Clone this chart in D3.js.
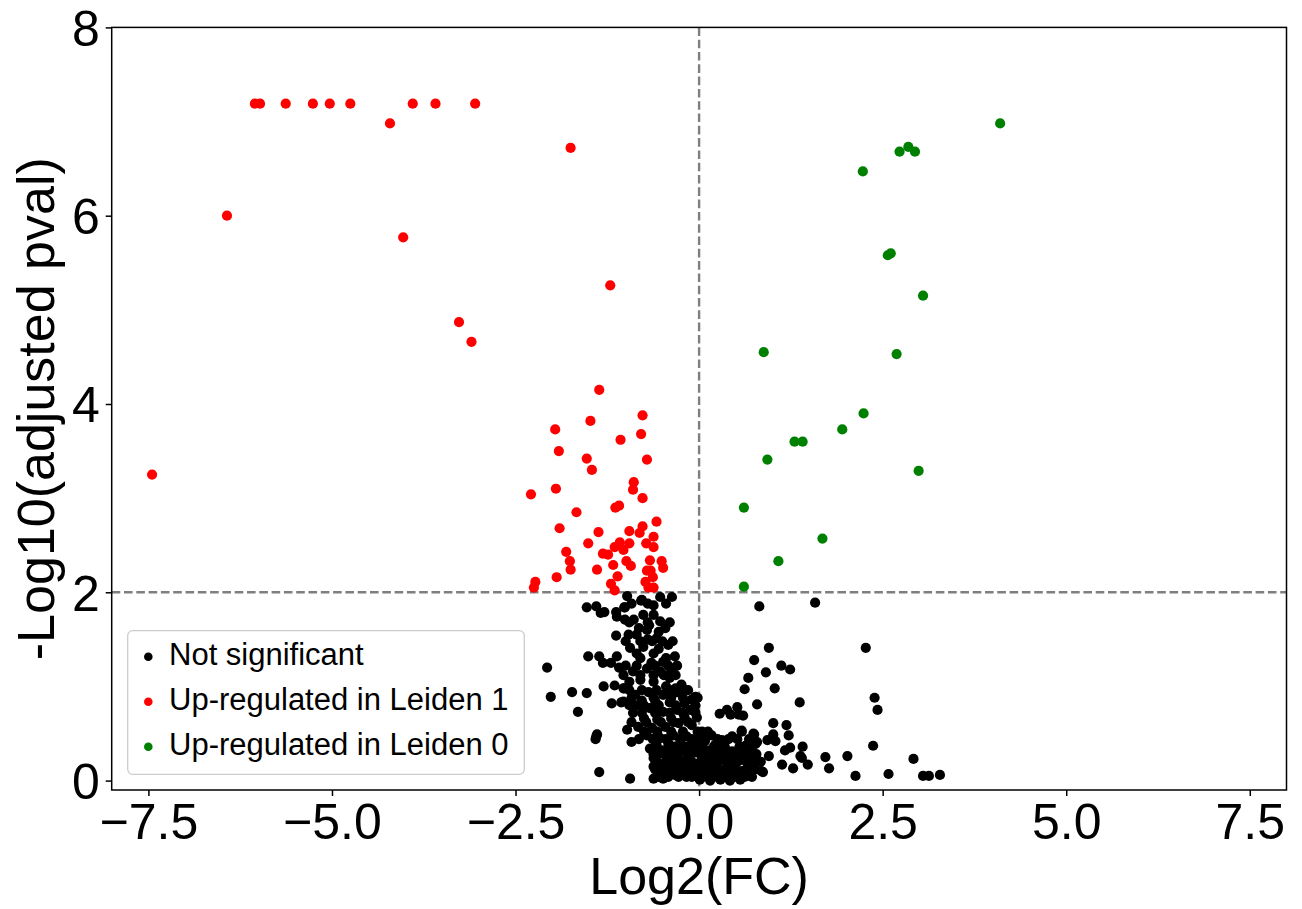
<!DOCTYPE html>
<html>
<head>
<meta charset="utf-8">
<script src="https://cdn.jsdelivr.net/npm/d3@7"></script>
<style>
  html, body { margin: 0; padding: 0; background: #fff; }
  svg text { font-family: "Liberation Sans", Arial, sans-serif; fill: #000; }
</style>
</head>
<body>
<svg id="chart" width="1302" height="909"></svg>
<script>
// ---- data (log2 fold change, -log10 adjusted p) ----
const seriesNames = ["Not significant", "Up-regulated in Leiden 1", "Up-regulated in Leiden 0"];
const seriesColors = ["#000000", "#ff0000", "#008000"];

const notSignificant = [
  [0.82,1.85],[1.58,1.89],[0.95,1.41],[2.27,1.41],[0.75,1.28],[1.12,1.22],[1.24,1.18],[0.91,1.15],
  [0.67,1.09],[0.62,0.97],[1.03,0.98],[0.79,0.81],[1.37,0.83],[2.39,0.88],[2.43,0.75],[0.28,0.71],
  [0.38,0.75],[0.43,0.70],[0.52,0.78],[0.54,0.70],[0.60,0.69],[1.01,0.61],[1.19,0.59],[0.58,0.53],
  [0.75,0.49],[1.01,0.49],[1.22,0.48],[0.93,0.43],[1.04,0.42],[0.77,0.39],[0.63,0.37],[1.24,0.35],
  [1.17,0.32],[1.41,0.36],[2.37,0.37],[1.38,0.26],[1.40,0.24],[0.95,0.26],[1.72,0.25],[2.02,0.26],
  [2.92,0.23],[0.84,0.20],[1.13,0.17],[1.48,0.17],[1.28,0.13],[1.77,0.13],[0.87,0.09],[2.13,0.05],
  [2.58,0.07],[3.05,0.05],[3.13,0.05],[3.28,0.06],
  [0.04,0.52],[0.17,0.48],[0.31,0.43],[0.45,0.47],[0.58,0.52],[0.74,0.50],[0.79,0.41],[0.01,0.36],
  [0.15,0.32],[0.29,0.34],[0.45,0.31],[0.63,0.36],[0.04,0.22],[0.17,0.20],[0.31,0.22],[0.45,0.20],
  [0.58,0.22],[0.83,0.20],[0.01,0.11],[0.15,0.10],[0.29,0.11],[0.42,0.08],[0.58,0.10],[0.85,0.10],
  [0.01,0.01],[0.15,0.00],[0.29,0.01],[0.42,0.00],[0.56,0.01],
  [0.08,0.42],[0.22,0.38],[0.36,0.28],[0.50,0.26],[0.10,0.15],[0.24,0.16],[0.38,0.14],[0.52,0.05],
  [0.08,0.05],[0.22,0.05],[0.35,0.05],[0.65,0.05],[0.70,0.15],[0.68,0.28],[0.12,0.27],
  [-1.53,1.84],[-1.40,1.85],[-1.34,1.78],[-1.29,1.79],[-1.13,1.79],[-1.12,1.74],[-1.02,1.84],[-1.13,1.54],
  [-1.51,1.32],[-1.36,1.32],[-1.31,1.25],[-1.20,1.25],[-1.12,1.32],[-1.09,1.20],[-2.07,1.20],[-2.02,0.89],
  [-1.73,0.94],[-1.53,0.93],[-1.65,0.73],[-1.30,1.00],[-1.15,1.01],[-1.03,0.98],[-1.19,0.82],[-1.06,0.83],
  [-1.39,0.49],[-1.41,0.44],[-1.36,0.09],[-0.98,0.54],[-1.40,0.47],[-0.05,0.89],
  [-0.79,1.91],[-0.37,1.95],[-0.62,1.86],[-1.01,1.84],[-0.98,1.96],[-0.78,1.92],[-0.53,1.95],
  [-1.01,1.71],[-0.89,1.71],[-0.76,1.76],[-0.62,1.76],[-0.53,1.69],[-0.46,1.62],
  [-0.96,1.55],[-0.85,1.55],[-0.71,1.60],[-0.58,1.51],[-0.42,1.44],[-0.33,1.32],
  [-0.94,1.41],[-0.76,1.42],[-0.62,1.35],[-0.49,1.26],
  [-1.03,1.12],[-0.90,1.16],[-0.71,1.19],[-0.53,1.16],[-0.40,1.09],[-0.24,1.02],
  [-1.02,0.98],[-0.87,0.91],[-0.69,0.94],[-0.49,0.91],[-0.30,0.94],[-0.10,0.86],
  [-1.03,0.84],[-0.85,0.80],[-0.67,0.77],[-0.49,0.73],[-0.30,0.75],[-0.12,0.75],
  [-0.83,0.57],[-0.64,0.56],[-0.46,0.57],[-0.28,0.61],[-0.10,0.59],
  [-0.92,0.41],[-0.71,0.48],[-0.53,0.45],[-0.35,0.48],[-0.17,0.47],[0.06,0.50],
  [-0.67,0.34],[-0.49,0.32],[-0.33,0.36],[-0.15,0.36],[0.06,0.34],
  [-0.62,0.24],[-0.44,0.25],[-0.28,0.24],[-0.12,0.27],[0.08,0.24],
  [-0.94,0.02],[-0.62,0.15],[-0.62,0.02],[-0.49,0.02],[-0.33,0.06],[-0.17,0.04],[-0.01,0.04],[0.13,0.04],
  [-0.44,0.13],[-0.28,0.15],[-0.12,0.13],
  [-0.95,1.05],[-0.80,1.07],[-0.62,1.05],[-0.45,1.00],[-0.32,0.98],[-0.78,0.85],[-0.60,0.85],[-0.40,0.83],
  [-0.20,0.82],[-0.75,0.66],[-0.57,0.65],[-0.38,0.66],[-0.20,0.68],[-0.03,0.67],
  [-0.58,0.38],[-0.42,0.40],[-0.25,0.40],[-0.08,0.42],[-0.55,0.28],[-0.38,0.30],[-0.22,0.32],[-0.05,0.30],
  [-0.52,0.18],[-0.35,0.20],[-0.18,0.20],[-0.02,0.18],[-0.55,0.08],[-0.40,0.07],[-0.25,0.09],[-0.08,0.08],
  [-0.80,1.30],[-0.65,1.25],[-0.55,1.40],[-0.70,1.50],[-0.85,1.35],[-0.45,1.30],[-0.38,1.18],[-0.68,1.65],
  [-0.82,1.62],[-0.55,1.58],
  [-0.92,1.88],[-0.70,1.88],[-0.45,1.88],
  [-0.95,1.68],[-0.70,1.68],[-0.40,1.68],
  [-1.00,1.48],[-0.80,1.48],[-0.64,1.48],[-0.50,1.48],[-0.36,1.48],
  [-1.00,1.22],[-0.85,1.22],[-0.60,1.22],[-0.42,1.22],[-0.30,1.22],
  [-0.80,1.12],[-0.62,1.12],[-0.48,1.12],[-0.32,1.12],
  [-0.95,0.96],[-0.78,0.96],[-0.58,0.96],[-0.40,0.96],[-0.20,0.96],[-0.15,0.96],
  [-0.92,0.88],[-0.62,0.88],[-0.38,0.88],[-0.22,0.88],[-0.02,0.88],
  [-0.95,0.80],[-0.75,0.80],[-0.55,0.80],[-0.32,0.80],[-0.05,0.80],
  [-0.90,0.72],[-0.78,0.72],[-0.60,0.72],[-0.40,0.72],[-0.22,0.72],[-0.05,0.72],
  [-0.92,0.62],[-0.72,0.62],[-0.52,0.62],[-0.35,0.62],[-0.15,0.62],
  [-0.75,0.52],[-0.57,0.52],[-0.38,0.52],[-0.22,0.52],[-0.02,0.52],[0.12,0.52],
  [-0.82,0.44],[-0.63,0.44],[-0.45,0.44],[-0.26,0.44],[-0.10,0.44],[0.00,0.44],[0.25,0.44],[0.40,0.44],[0.52,0.44],[0.68,0.44],
  [-0.58,0.36],[-0.40,0.36],[-0.22,0.36],[-0.05,0.36],[0.20,0.36],[0.35,0.36],[0.55,0.36],[0.72,0.36],
  [-0.62,0.28],[-0.45,0.28],[-0.30,0.28],[-0.16,0.28],[0.02,0.28],[0.18,0.28],[0.28,0.28],[0.44,0.28],[0.58,0.28],[0.78,0.28],
  [-0.58,0.20],[-0.44,0.20],[-0.26,0.20],[-0.10,0.20],[0.10,0.20],[0.24,0.20],[0.38,0.20],[0.52,0.20],[0.65,0.20],[0.72,0.20],
  [-0.60,0.12],[-0.48,0.12],[-0.34,0.12],[-0.20,0.12],[-0.04,0.12],[0.08,0.12],[0.22,0.12],[0.36,0.12],[0.50,0.12],[0.64,0.12],[0.76,0.12],
  [-0.55,0.04],[-0.42,0.04],[-0.28,0.04],[-0.10,0.04],[0.05,0.04],[0.20,0.04],[0.34,0.04],[0.48,0.04],[0.62,0.04],[0.72,0.04]
];

const upLeiden1 = [
  [-6.05,7.19],[-5.98,7.19],[-5.63,7.19],[-5.26,7.19],[-5.03,7.19],[-4.75,7.19],[-3.90,7.19],[-3.59,7.19],
  [-3.05,7.19],[-4.21,6.98],[-1.75,6.72],[-6.43,6.00],[-4.03,5.77],[-1.21,5.26],[-3.27,4.87],[-3.10,4.66],
  [-7.45,3.25],[-2.29,3.04],[-2.23,2.11],[-2.25,2.05],
  [-1.36,4.15],[-0.77,3.88],[-1.48,3.82],[-1.96,3.73],[-0.79,3.68],[-1.07,3.62],[-1.91,3.50],[-1.53,3.42],
  [-0.71,3.41],[-1.46,3.30],[-0.89,3.17],[-0.90,3.09],[-1.95,3.10],[-0.77,3.00],[-1.14,2.90],[-1.09,2.92],
  [-1.67,2.85],[-0.58,2.75],[-1.90,2.68],[-0.77,2.70],[-0.95,2.65],[-1.37,2.64],[-0.81,2.63],[-0.62,2.59],
  [-1.51,2.52],[-1.08,2.53],[-0.95,2.52],[-0.72,2.52],[-1.15,2.48],[-1.03,2.45],[-0.62,2.48],[-1.81,2.43],
  [-1.31,2.41],[-1.24,2.40],[-1.76,2.33],[-0.99,2.33],[-0.67,2.34],[-0.51,2.33],[-1.75,2.24],[-1.17,2.29],
  [-0.93,2.28],[-0.49,2.26],[-1.39,2.24],[-0.71,2.23],[-0.66,2.23],[-1.11,2.17],[-1.94,2.16],[-0.63,2.16],
  [-0.73,2.11],[-1.20,2.09],[-0.69,2.05],[-0.62,2.05],[-1.15,2.02]
];

const upLeiden0 = [
  [4.10,6.98],[2.73,6.68],[2.85,6.73],[2.94,6.68],[2.23,6.47],[2.57,5.58],[2.61,5.60],[3.05,5.15],
  [0.88,4.55],[2.69,4.53],[2.24,3.90],[1.95,3.73],[1.30,3.60],[1.41,3.60],[0.93,3.41],[2.99,3.29],
  [0.61,2.90],[1.68,2.57],[1.08,2.33],[0.61,2.06]
];

const xTicks = [-7.5, -5.0, -2.5, 0.0, 2.5, 5.0, 7.5];
const yTicks = [0, 2, 4, 6, 8];
const xDomain = [-8, 8];
const yDomain = [-0.1, 8];
const pThreshold = 2;   // -log10 adjusted p cut-off
const fcThreshold = 0;  // log2 FC divider
const xLabel = "Log2(FC)";
const yLabel = "-Log10(adjusted pval)";

// ---- layout ----
const svg = d3.select("#chart");
const plotL = 111.7, plotR = 1286.5, plotT = 27.4, plotB = 790;
const x = d3.scaleLinear().domain(xDomain).range([plotL, plotR]);
const y = d3.scaleLinear().domain(yDomain).range([plotB, plotT]);
const tickFont = 50;

// threshold lines
svg.append("line")
  .attr("x1", plotL).attr("x2", plotR)
  .attr("y1", y(pThreshold)).attr("y2", y(pThreshold))
  .attr("stroke", "#7f7f7f").attr("stroke-width", 2.4).attr("stroke-dasharray", "8.6,3.7");
svg.append("line")
  .attr("x1", x(fcThreshold)).attr("x2", x(fcThreshold))
  .attr("y1", plotT).attr("y2", plotB)
  .attr("stroke", "#7f7f7f").attr("stroke-width", 2.4).attr("stroke-dasharray", "8.6,3.7");

// points
const groups = [notSignificant, upLeiden1, upLeiden0];
groups.forEach((pts, i) => {
  svg.append("g").selectAll("circle").data(pts).join("circle")
    .attr("cx", d => x(d[0]))
    .attr("cy", d => y(d[1]))
    .attr("r", 5.1)
    .attr("fill", seriesColors[i]);
});

// frame
svg.append("rect")
  .attr("x", plotL).attr("y", plotT)
  .attr("width", plotR - plotL).attr("height", plotB - plotT)
  .attr("fill", "none").attr("stroke", "#000").attr("stroke-width", 1.5);

// x axis
const xAxis = d3.axisBottom(x).tickValues(xTicks).tickFormat(d3.format(".1f")).tickSizeOuter(0).tickSize(6).tickPadding(7);
const gx = svg.append("g").attr("transform", `translate(0,${plotB})`).call(xAxis);
gx.select(".domain").remove();
gx.selectAll("line").attr("stroke", "#000").attr("stroke-width", 1.5);
gx.selectAll("text")
  .attr("font-size", tickFont)
  .attr("font-family", '"Liberation Sans", Arial, sans-serif')
  .attr("dy", "0.72em")
  .attr("fill", "#000");

// y axis
const yAxis = d3.axisLeft(y).tickValues(yTicks).tickFormat(d3.format("d")).tickSizeOuter(0).tickSize(6).tickPadding(6);
const gy = svg.append("g").attr("transform", `translate(${plotL},0)`).call(yAxis);
gy.select(".domain").remove();
gy.selectAll("line").attr("stroke", "#000").attr("stroke-width", 1.5);
gy.selectAll("text")
  .attr("font-size", tickFont)
  .attr("font-family", '"Liberation Sans", Arial, sans-serif')
  .attr("dy", "0.36em")
  .attr("fill", "#000");

// axis labels
svg.append("text")
  .attr("x", (plotL + plotR) / 2).attr("y", 894)
  .attr("text-anchor", "middle").attr("font-size", 52)
  .text(xLabel);
svg.append("text")
  .attr("transform", `translate(54,${(plotT + plotB) / 2}) rotate(-90)`)
  .attr("text-anchor", "middle").attr("font-size", 52)
  .text(yLabel);

// legend
const lg = svg.append("g");
lg.append("rect")
  .attr("x", 127.7).attr("y", 630.7).attr("width", 396.6).attr("height", 143.6)
  .attr("rx", 5).attr("ry", 5)
  .attr("fill", "#fff").attr("fill-opacity", 0.8)
  .attr("stroke", "#cccccc").attr("stroke-width", 1.3);
seriesNames.forEach((name, i) => {
  const by = 665 + i * 45;
  lg.append("circle").attr("cx", 148.3).attr("cy", by - 8.3).attr("r", 4.3).attr("fill", seriesColors[i]);
  lg.append("text").attr("x", 169).attr("y", by).attr("font-size", 31).text(name);
});
</script>
</body>
</html>
